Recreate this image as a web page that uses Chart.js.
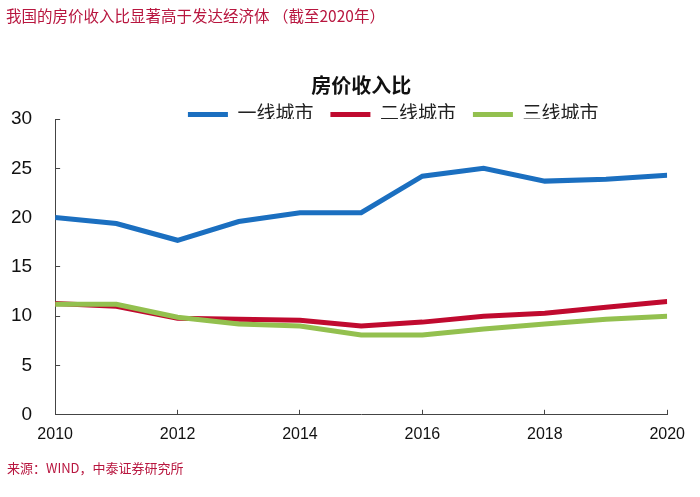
<!DOCTYPE html>
<html>
<head>
<meta charset="utf-8">
<script src="https://cdn.jsdelivr.net/npm/chart.js@4/dist/chart.umd.min.js"></script>
<style>
  body { margin: 0; background: #fff; }
  #wrap { position: relative; width: 700px; height: 497px; }
  #head { position: absolute; left: 6px; top: 4px; font: 15.5px "Noto Sans CJK SC", sans-serif; color: #b8163f; }
  #src { position: absolute; left: 7px; top: 458px; font: 13px "Noto Sans CJK SC", sans-serif; color: #b8163f; }
</style>
</head>
<body>
<div id="wrap">
  <canvas id="chart"></canvas>
  <div id="head">我国的房价收入比显著高于发达经济体 （截至2020年）</div>
  <div id="src">来源：WIND，中泰证券研究所</div>
</div>
<script>
// values
var years = [2010, 2011, 2012, 2013, 2014, 2015, 2016, 2017, 2018, 2019, 2020];
var tier1 = [20.0, 19.4, 17.7, 19.6, 20.5, 20.5, 24.2, 25.0, 23.7, 23.9, 24.3];
var tier2 = [11.3, 11.0, 9.8, 9.7, 9.6, 9.0, 9.4, 10.0, 10.3, 10.9, 11.5];
var tier3 = [11.2, 11.2, 9.9, 9.2, 9.0, 8.1, 8.1, 8.7, 9.2, 9.7, 10.0];
var names = ['一线城市', '二线城市', '三线城市'];
var colors = ['#1b6fc0', '#c00a2f', '#93c04f'];

var fontFam = '"Liberation Sans", "Noto Sans CJK SC", sans-serif';

function pts(vals) {
  return years.map(function (y, i) { return { x: y, y: vals[i] }; });
}

// squeeze the legend box so the plot starts right under it, and nudge it right
var legendTweak = {
  id: 'legendTweak',
  beforeInit: function (chart) {
    var fit = chart.legend.fit;
    chart.legend.fit = function () {
      fit.call(this);
      this.height = 31;
    };
  },
  afterLayout: function (chart) {
    chart.legend.left += 32;
    chart.legend.right += 32;
  }
};

var data = {
  datasets: [tier1, tier2, tier3].map(function (vals, i) {
    return {
      label: names[i],
      data: pts(vals),
      borderColor: colors[i],
      backgroundColor: colors[i],
      borderWidth: 5,
      pointRadius: 0,
      tension: 0,
      order: 2 - i
    };
  })
};

var config = {
  type: 'line',
  data: data,
  options: {
    responsive: true,
    maintainAspectRatio: false,
    animation: false,
    layout: { padding: { top: 75, left: -17, right: 14, bottom: 38 } },
    plugins: {
      title: {
        display: true,
        text: '房价收入比',
        fullSize: false,
        color: '#111',
        font: { family: fontFam, size: 20, weight: 'bold' },
        padding: { top: 0, bottom: -11 }
      },
      legend: {
        display: true,
        fullSize: false,
        labels: {
          color: '#222',
          font: { family: fontFam, size: 19 },
          usePointStyle: true,
          pointStyle: 'line',
          pointStyleWidth: 40,
          padding: 17,
          sort: function (a, b) { return a.datasetIndex - b.datasetIndex; }
        }
      },
      tooltip: { enabled: false }
    },
    scales: {
      x: {
        type: 'linear',
        min: 2010,
        max: 2020,
        grid: { drawOnChartArea: false, tickLength: -5, color: '#444' },
        border: { color: '#444', width: 1 },
        ticks: {
          stepSize: 2,
          padding: 15,
          color: '#111',
          font: { family: fontFam, size: 16 },
          callback: function (v) { return String(v); }
        }
      },
      y: {
        min: 0,
        max: 30,
        grid: { drawOnChartArea: false, tickLength: -5, color: '#444' },
        border: { color: '#444', width: 1 },
        ticks: {
          stepSize: 5,
          padding: 28,
          color: '#111',
          font: { family: fontFam, size: 19 }
        }
      }
    }
  },
  plugins: [legendTweak]
};

var chart = new Chart(document.getElementById('chart'), config);
</script>
</body>
</html>
